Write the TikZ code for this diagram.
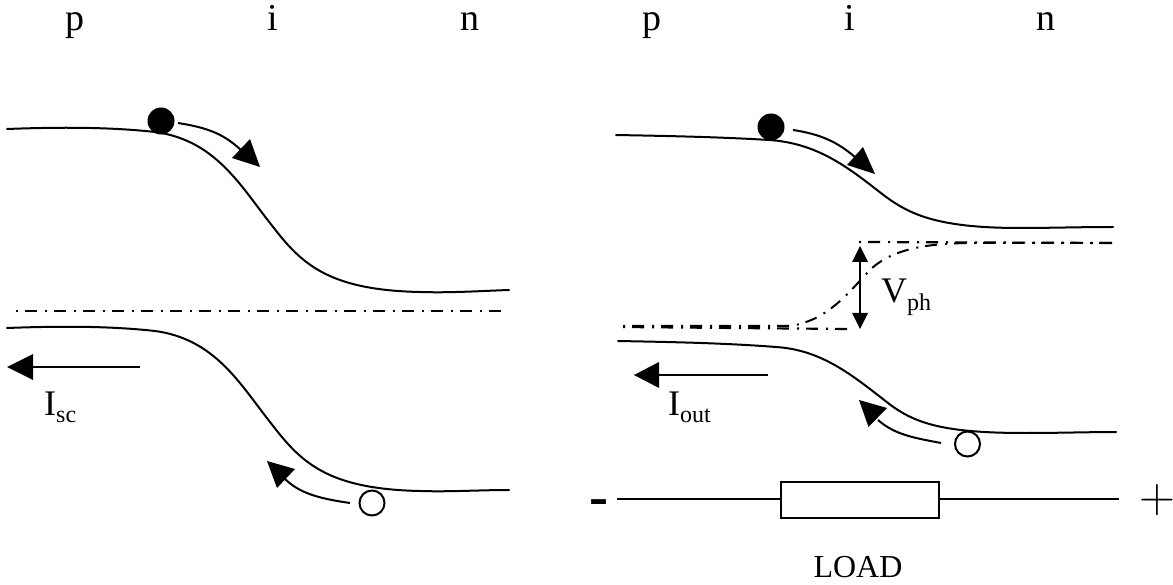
\documentclass[tikz,border=0pt]{standalone}
\usepackage{fontspec}
\setmainfont{Liberation Serif}
\tikzset{
  band/.style={line width=2pt,line cap=round},
  fermi/.style={line width=2.2pt,dash pattern=on 2pt off 7pt on 12pt off 8pt},
  fermicurve/.style={line width=2pt,dash pattern=on 2pt off 7pt on 12pt off 8pt},
  flow/.style={line width=2pt},
  head/.style={fill=black,draw=none},
  wire/.style={line width=2pt},
  lab/.style={font=\fontsize{38}{38}\selectfont,inner sep=0pt,anchor=base},
  sublab/.style={font=\fontsize{36}{36}\selectfont,inner sep=0pt,anchor=base west},
  electron/.style={circle,fill=black,draw=none,minimum size=27pt,inner sep=0pt},
  hole/.style={circle,fill=white,draw=black,line width=2pt,minimum size=25pt,inner sep=0pt}
}
\newcommand{\Sb}[1]{\raisebox{-0.2em}{\fontsize{24}{24}\selectfont #1}}
\begin{document}
\begin{tikzpicture}[x=1pt,y=-1pt]
\useasboundingbox (0,0) rectangle (1173,585);
% top labels
\node[lab] (p1) at (75,31) {p};
\node[lab] (i1) at (273,31) {i};
\node[lab] (n1) at (470,31) {n};
\node[lab] (p2) at (652,31) {p};
\node[lab] (i2) at (850,31) {i};
\node[lab] (n2) at (1046,31) {n};
% left bands
\draw[band] (7,129) .. controls (60,127) and (110,127) .. (155,132) .. controls (215,140) and (240,185) .. (270,223) .. controls (300,262) and (325,290) .. (420,292) .. controls (450,293) and (480,291) .. (509,290);
\draw[band] (7,328) .. controls (60,326) and (110,326) .. (155,331) .. controls (215,339) and (240,384) .. (270,422) .. controls (300,461) and (325,489) .. (420,491) .. controls (450,492) and (480,490) .. (509,490);
\coordinate (fl1) at (16,311); \coordinate (fl2) at (508,311);
\draw[fermi] (fl1) -- (fl2);
% left carriers
\node[electron] (e1) at (161,121) {};
\draw[flow] (178,123) .. controls (210,128) and (225,135) .. (242,151);
\fill[head] (250,139) -- (260,167) -- (232,158) -- cycle;
\node[hole] (h1) at (372,503) {};
\draw[flow] (350,503) .. controls (315,498) and (298,492) .. (284,478);
\fill[head] (267,461) -- (295,469) -- (277,488) -- cycle;
% Isc
\coordinate (is1) at (140,367); \coordinate (is2) at (32,367);
\draw[wire] (is1) -- (is2);
\fill[head] (7,367) -- (33,354) -- (33,380) -- cycle;
\node[sublab] (isc) at (44,415) {I\Sb{sc}};
% right bands
\draw[band] (616,135) .. controls (670,136) and (720,137) .. (769,140) .. controls (815,143) and (845,165) .. (877,190) .. controls (905,212) and (930,228) .. (1020,228) .. controls (1050,228) and (1080,227) .. (1113,227);
\draw[band] (618,341) .. controls (670,342) and (725,343) .. (776,347) .. controls (822,350) and (852,375) .. (888,403) .. controls (915,424) and (945,433) .. (1025,433) .. controls (1060,433) and (1090,432) .. (1116,432);
% right Fermi
\coordinate (fa1) at (859,242); \coordinate (fa2) at (1114,243);
\coordinate (fb1) at (623,327); \coordinate (fb2) at (850,329);
\draw[fermi] (fa1) -- (fa2);
\draw[fermi] (fb1) -- (fb2);
\draw[fermicurve] (623,326) -- (790,326) .. controls (830,320) and (850,290) .. (872,268) .. controls (895,248) and (930,243) .. (975,243) -- (1114,243);
% Vph
\coordinate (va) at (860,260); \coordinate (vb) at (860,315);
\draw[wire] (va) -- (vb);
\fill[head] (860,246) -- (868,262) -- (852,262) -- cycle;
\fill[head] (860,329) -- (868,313) -- (852,313) -- cycle;
\node[sublab] (vph) at (881,303) {V\Sb{ph}};
% right carriers
\node[electron] (e2) at (771,127) {};
\draw[flow] (793,130) .. controls (820,134) and (838,142) .. (856,158);
\fill[head] (863,147) -- (875,174) -- (847,165) -- cycle;
\node[hole] (h2) at (967.5,444) {};
\draw[flow] (941,443) .. controls (915,438) and (895,435) .. (878,420);
\fill[head] (859,400) -- (887,408) -- (868.5,427) -- cycle;
% Iout
\coordinate (io1) at (768,375); \coordinate (io2) at (658,375);
\draw[wire] (io1) -- (io2);
\fill[head] (634,375) -- (659,362) -- (659,388) -- cycle;
\node[sublab] (iout) at (668,415) {I\Sb{out}};
% load
\node[draw=black,line width=2pt,minimum width=158pt,minimum height=36pt,inner sep=0pt] (load) at (860,500) {};
\coordinate (wl) at (617,499); \coordinate (wr) at (1119,499);
\draw[wire] (wl) -- (load.west |- wl);
\draw[wire] (load.east |- wr) -- (wr);
\node[inner sep=0pt,font=\fontsize{32}{32}\selectfont,anchor=base] (loadlab) at (858,577) {LOAD};
\node[inner sep=0pt,font=\bfseries\fontsize{57}{57}\selectfont,anchor=center] (minus) at (599,508) {-};
\node[inner sep=0pt,scale=2,font=\fontsize{24}{24}\selectfont,anchor=center] (plus) at (1157,500) {$+$};
\end{tikzpicture}
\end{document}
